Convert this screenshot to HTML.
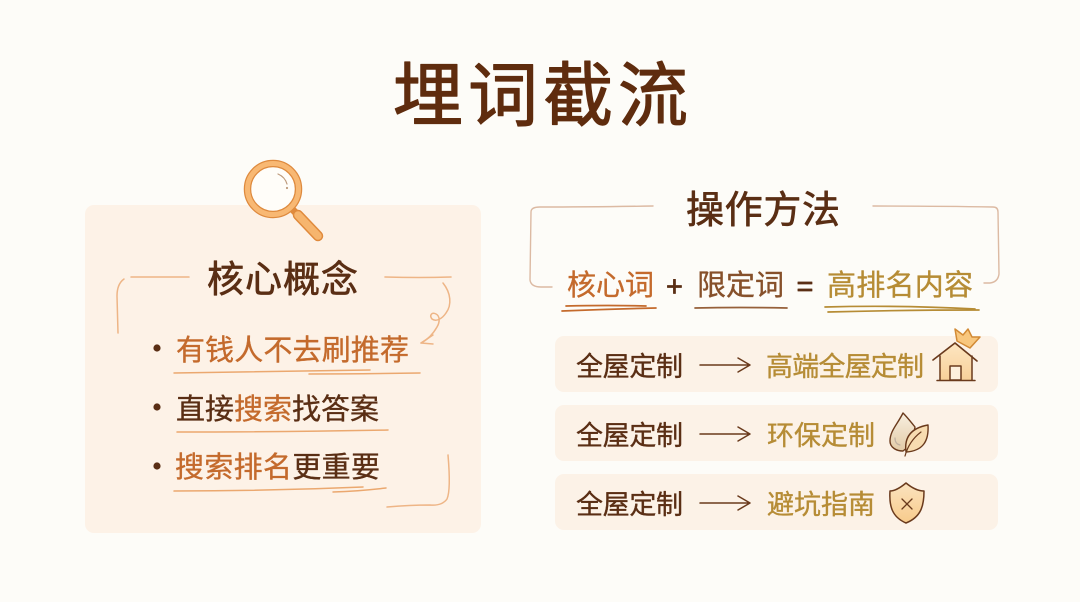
<!DOCTYPE html>
<html lang="zh">
<head>
<meta charset="utf-8">
<title>埋词截流</title>
<style>
html,body{margin:0;padding:0;background:#fdfcf8;}
svg{display:block;}
text{font-family:"Liberation Sans","Noto Sans CJK SC","WenQuanYi Zen Hei",sans-serif;stroke-linejoin:round;stroke-linecap:round;paint-order:stroke;}
.d{fill:#5a2e14;stroke:#5a2e14;stroke-width:.35;}
.o{fill:#c46a2c;stroke:#c46a2c;stroke-width:.35;}
.g{fill:#b68c35;stroke:#b68c35;stroke-width:.35;}
.l{fill:none;stroke-linecap:round;stroke-linejoin:round;}
</style>
</head>
<body>
<svg width="1080" height="602" viewBox="0 0 1080 602" xmlns="http://www.w3.org/2000/svg">
<defs>
<linearGradient id="hf" x1="0" y1="0" x2="0" y2="1"><stop offset="0" stop-color="#fde6c2"/><stop offset="1" stop-color="#f8d099"/></linearGradient>
<linearGradient id="sf" x1="0" y1="0" x2="0" y2="1"><stop offset="0" stop-color="#fbe3bf"/><stop offset="1" stop-color="#f8cb8b"/></linearGradient>
<linearGradient id="df" x1="0" y1="0" x2="0" y2="1"><stop offset="0" stop-color="#f8efe0"/><stop offset="1" stop-color="#e3cba6"/></linearGradient>
</defs>
<rect width="1080" height="602" fill="#fdfcf8"/>

<text x="393" y="120" font-size="70" font-weight="400" fill="#5f2c0e" stroke="#5f2c0e" stroke-width="1.2" textLength="295" lengthAdjust="spacing">埋词截流</text>

<!-- left panel -->
<rect x="85" y="205" width="396" height="328" rx="9" fill="#fdf2e7"/>

<!-- magnifier -->
<g>
<path d="M293 210 L298 215" stroke="#e08a3c" stroke-width="7" stroke-linecap="round" fill="none"/>
<path d="M298 215 L318 236" stroke="#e08a3c" stroke-width="10.5" stroke-linecap="round" fill="none"/>
<path d="M298 215 L318 236" stroke="#f6b56e" stroke-width="7.5" stroke-linecap="round" fill="none"/>
<circle cx="273" cy="189" r="25.5" fill="#fffdf9" stroke="#de8a3e" stroke-width="7.5"/>
<circle cx="273" cy="189" r="25.5" fill="none" stroke="#f8b873" stroke-width="5"/>
<path d="M278 174 Q285 177 287 184" class="l" stroke="#bd9a7c" stroke-width="1.2"/>
<circle cx="287" cy="188" r="1.1" fill="#bd9a7c"/>
</g>

<text x="207" y="292" font-size="37" font-weight="400" class="d" style="stroke-width:.7" textLength="151" lengthAdjust="spacing">核心概念</text>

<!-- left brackets -->
<g class="l" stroke="#eeb586" stroke-width="1.5">
<path d="M131 277 L189 277"/>
<path d="M124 279 Q117 284 117 296 L118 333"/>
<path d="M385 277 Q420 278 451 277"/>
<path d="M443 283 C451 293 452 305 446 313 C442 319 436 322 432 319 C429 315 432 312 436 314 C440 316 440 322 437 327 C433 334 427 340 421 343"/>
<path d="M433 335 L421 343 L433 344"/>
<path d="M448 455 Q451 490 447 499 Q442 506 430 505 Q410 505 387 507"/>
</g>

<!-- bullets -->
<circle cx="157" cy="348" r="3.6" fill="#5a2e14"/>
<circle cx="157" cy="407" r="3.6" fill="#5a2e14"/>
<circle cx="157" cy="466" r="3.6" fill="#5a2e14"/>

<text x="176" y="360" font-size="29" font-weight="400" textLength="233" lengthAdjust="spacing" class="o">有钱人不去刷推荐</text>
<text x="176" y="419" font-size="29" font-weight="400" textLength="203" lengthAdjust="spacing" class="d">直接<tspan class="o">搜索</tspan>找答案</text>
<text x="175" y="477" font-size="29" font-weight="400" textLength="205" lengthAdjust="spacing" class="o">搜索排名<tspan class="d">更重要</tspan></text>

<g class="l" stroke="#eba86f" stroke-width="1.5">
<path d="M174 373 Q260 372 370 370"/>
<path d="M309 374 Q360 374 420 373"/>
<path d="M177 432 Q280 432 388 430"/>
<path d="M174 491 Q270 491 363 487"/>
<path d="M333 492 Q360 491 386 488"/>
</g>

<!-- right header -->
<g class="l" stroke="#dcbaa3" stroke-width="1.4">
<path d="M653 206 Q590 207 540 207 Q531 207 531 212 L530 280 Q531 287 541 287 L552 287"/>
<path d="M873 206 Q940 206 993 207 Q998 207 998 212 L999 274 Q998 282 990 283 L984 283"/>
</g>
<text x="686" y="223" font-size="38" font-weight="400" class="d" style="stroke-width:.7" textLength="154" lengthAdjust="spacing">操作方法</text>

<text x="567" y="295" font-size="29" font-weight="400" class="o" textLength="87" lengthAdjust="spacing">核心词</text>
<text x="666" y="296" font-size="29" font-weight="400" class="d" style="stroke-width:.7">+</text>
<text x="697" y="295" font-size="29" font-weight="400" fill="#86502a" stroke="#86502a" stroke-width=".35" textLength="87" lengthAdjust="spacing">限定词</text>
<text x="796.500" y="296" font-size="29" font-weight="400" class="d" style="stroke-width:.7">=</text>
<text x="827" y="295" font-size="29" font-weight="400" class="g" textLength="146" lengthAdjust="spacing">高排名内容</text>

<g class="l" stroke-width="1.7">
<path d="M566 306 Q610 305 646 306" stroke="#c46a2c"/>
<path d="M562 311 Q610 309 656 308" stroke="#c46a2c"/>
<path d="M695 308 Q740 307 787 308" stroke="#96603a"/>
<path d="M825 307 Q900 305 975 309" stroke="#b68c35"/>
<path d="M828 312 Q900 310 979 310" stroke="#b68c35"/>
</g>

<!-- rows -->
<rect x="555" y="336" width="443" height="56" rx="9" fill="#fcf2e7"/>
<rect x="555" y="405" width="443" height="56" rx="9" fill="#fcf2e7"/>
<rect x="555" y="474" width="443" height="56" rx="9" fill="#fcf2e7"/>

<g font-size="27" font-weight="400">
<text x="576" y="376" class="d" textLength="107" lengthAdjust="spacing">全屋定制</text>
<text x="576" y="445" class="d" textLength="107" lengthAdjust="spacing">全屋定制</text>
<text x="576" y="514" class="d" textLength="107" lengthAdjust="spacing">全屋定制</text>
<text x="766" y="376" class="g" textLength="158" lengthAdjust="spacing">高端全屋定制</text>
<text x="767" y="445" class="g" textLength="108" lengthAdjust="spacing">环保定制</text>
<text x="767" y="514" class="g" textLength="108" lengthAdjust="spacing">避坑指南</text>
</g>

<g class="l" stroke="#6a3a1c" stroke-width="1.5">
<path d="M700 365 L750 365 M738 358 L750 365 L738 372"/>
<path d="M700 434 L750 434 M738 427 L750 434 L738 441"/>
<path d="M700 503 L750 503 M738 496 L750 503 L738 510"/>
</g>

<!-- house -->
<g class="l">
<path d="M940 380 L940 356 L955 343 L972 356 L972 380 Z" fill="url(#hf)"/>
<rect x="950" y="366" width="11" height="14" fill="#fdf0dc" stroke="#6a3a1c" stroke-width="1.5"/>
<path d="M933 360 L955 343 L977 361" stroke="#6a3a1c" stroke-width="1.7"/>
<path d="M940 356 L940 380 M972 356 L972 380 M937 380.500 L975 380.500" stroke="#6a3a1c" stroke-width="1.5"/>
<path d="M957 341 L955 329 L963 335 L968 329 L972 337 L980 337 L970 348 Z" fill="#f8c77e" stroke="#d28a35" stroke-width="1.5"/>
</g>

<!-- drop + leaf -->
<g class="l">
<path d="M903 413 C897 425 890 431 890 441 C890 448 897 451 903 451 L908 447 L914 432 L915 427 C911 422 907 417 903 413 Z" fill="url(#df)" stroke="#6a3a1c" stroke-width="1.4"/>
<path d="M895 438 Q895 444 900 445" stroke="#c0b0a0" stroke-width="1.2"/>
<path d="M906 452 C904 437 911 428 928 425 C929 441 923 451 906 452 Z" fill="#f7dcb0" stroke="#6a3a1c" stroke-width="1.4"/>
<path d="M905 456 Q909 441 921 432" stroke="#6a3a1c" stroke-width="1.2"/>
</g>

<!-- shield -->
<g class="l">
<path d="M906 483 C900 488 895 491 890 491 C889 506 892 517 906 523 C921 517 924 506 924 491 C918 491 912 488 906 483 Z" fill="url(#sf)" stroke="#6a3a1c" stroke-width="1.5"/>
<path d="M902 499 L912 509 M912 499 L902 509" stroke="#6a3a1c" stroke-width="1.3"/>
</g>
</svg>
</body>
</html>
